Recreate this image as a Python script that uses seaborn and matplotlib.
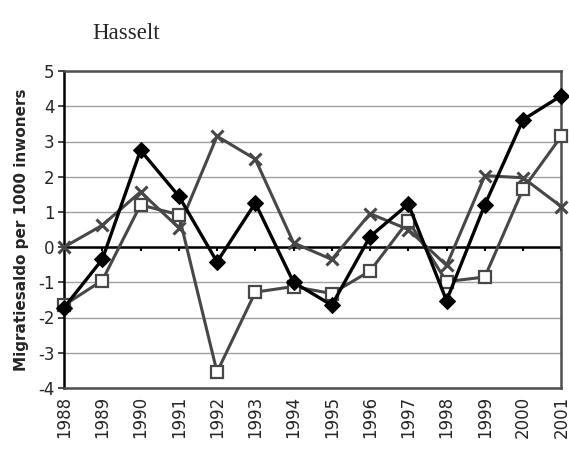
import numpy as np
import pandas as pd
import matplotlib
matplotlib.use("Agg")
import matplotlib.pyplot as plt
import seaborn as sns

years = list(range(1988, 2002))
diamond = [-1.72, -0.35, 2.75, 1.45, -0.42, 1.25, -1.0, -1.65, 0.3, 1.22, -1.52, 1.2, 3.62, 4.3]
square = [-1.65, -0.95, 1.2, 0.92, -3.55, -1.28, -1.12, -1.32, -0.68, 0.75, -0.98, -0.85, 1.65, 3.15]
cross = [0.0, 0.62, 1.57, 0.55, 3.15, 2.5, 0.12, -0.35, 0.95, 0.5, -0.52, 2.03, 1.97, 1.15]

sns.set_style("white")
plt.rcParams["font.family"] = ["DejaVu Sans"]

df = pd.DataFrame({"jaar": years, "diamond": diamond, "square": square, "cross": cross})

fig = plt.figure(figsize=(5.69, 4.5), dpi=100)
ax = fig.add_axes([0.1125, 0.138, 0.874, 0.704])

for y in range(-4, 6):
    ax.axhline(y, color="#a0a0a0", lw=1.0, zorder=0)

gray = "#474747"
sns.lineplot(data=df, x="jaar", y="cross", ax=ax, color=gray, lw=2.2,
             marker="x", markersize=9, markeredgewidth=2.2, markeredgecolor=gray,
             zorder=3, clip_on=False)
sns.lineplot(data=df, x="jaar", y="square", ax=ax, color=gray, lw=2.2,
             marker="s", markersize=9, markerfacecolor="white",
             markeredgecolor=gray, markeredgewidth=1.6, zorder=4, clip_on=False)
sns.lineplot(data=df, x="jaar", y="diamond", ax=ax, color="black", lw=2.4,
             marker="D", markersize=8.5, markerfacecolor="black",
             markeredgecolor="black", zorder=5, clip_on=False)

# zero axis with ticks
ax.axhline(0, color="black", lw=1.8, zorder=2)
ax.vlines(years, -0.12, 0, color="black", lw=1.5, zorder=2)

ax.set_xlim(years[0], years[-1])
ax.set_ylim(-4, 5)
ax.set_xticks(years)
ax.set_xticklabels([str(y) for y in years], rotation=90, fontsize=12)
ax.set_yticks(range(-4, 6))
ax.set_yticklabels([str(v) for v in range(-4, 6)], fontsize=12)
ax.tick_params(axis="x", length=0, pad=6)
ax.tick_params(axis="y", length=4, width=1.2, direction="out", left=True, pad=3)
ax.set_xlabel("")
ax.set_ylabel("Migratiesaldo per 1000 inwoners", fontsize=11, fontweight="bold", labelpad=6)

for side in ["top", "right", "bottom"]:
    ax.spines[side].set_color("#505050")
    ax.spines[side].set_linewidth(1.8)
ax.spines["left"].set_color("black")
ax.spines["left"].set_linewidth(1.8)
for s in ax.spines.values():
    s.set_zorder(2.5)

fig.text(0.162, 0.926, "Hasselt", fontsize=16.5, family="Liberation Serif", va="center")

fig.savefig("out.png", dpi=100)
